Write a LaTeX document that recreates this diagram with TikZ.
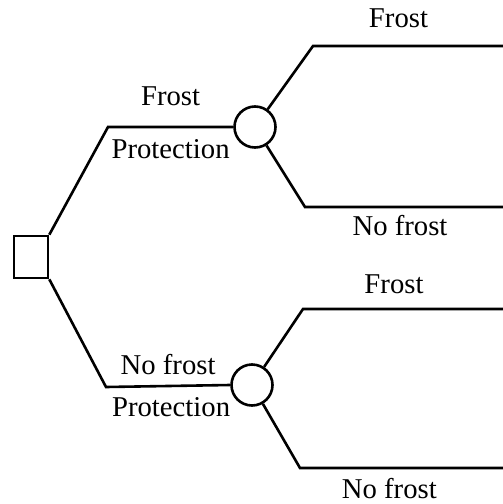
\documentclass[tikz,border=0pt]{standalone}
\usepackage{fontspec}
\setmainfont{Liberation Serif}
\usepackage{tikz}
\usetikzlibrary{positioning}

\begin{document}
\begin{tikzpicture}[
    x=1pt, y=-1pt,
    every path/.style={line width=2.6pt},
    decision/.style={draw,line width=2.6pt,minimum width=34pt,minimum height=42pt,inner sep=0pt},
    chance/.style={draw,circle,line width=2.6pt,minimum size=41pt,inner sep=0pt},
    lbl/.style={font=\fontsize{28.7}{34}\selectfont,anchor=base,inner sep=0pt}
]
    \useasboundingbox (0,0) rectangle (503,504);

    % Decision node and the two chance nodes
    \node[decision] (D) at (31,257) {};
    \node[chance] (C1) at (255,127) {};
    \node[chance] (C2) at (252,385) {};

    % Bends and free ends of the branches
    \coordinate (K1) at (108,127);
    \coordinate (K2) at (106,387);
    \coordinate (U1) at (313,46);
    \coordinate (U2) at (305,207);
    \coordinate (L1) at (303,309);
    \coordinate (L2) at (300,468);
    \coordinate (E1) at (503,46);
    \coordinate (E2) at (503,207);
    \coordinate (E3) at (503,309);
    \coordinate (E4) at (503,468);

    % Decision branches
    \draw (D.north east) -- (K1)
        -- node[lbl,yshift=22pt] {Frost}
           node[lbl,yshift=-31pt] {Protection} (C1.west);
    \draw (D.south east) -- (K2)
        -- node[lbl,yshift=12pt] {No frost}
           node[lbl,yshift=-30pt,xshift=3pt] {Protection} (C2.west);

    % Chance branches
    \draw (C1) -- (U1) -- node[lbl,pos=.45,yshift=19pt] {Frost} (E1);
    \draw (C1) -- (U2) -- node[lbl,pos=.48,yshift=-28pt] {No frost} (E2);
    \draw (C2) -- (L1) -- node[lbl,pos=.455,yshift=16pt] {Frost} (E3);
    \draw (C2) -- (L2) -- node[lbl,pos=.44,yshift=-30pt] {No frost} (E4);
\end{tikzpicture}
\end{document}
